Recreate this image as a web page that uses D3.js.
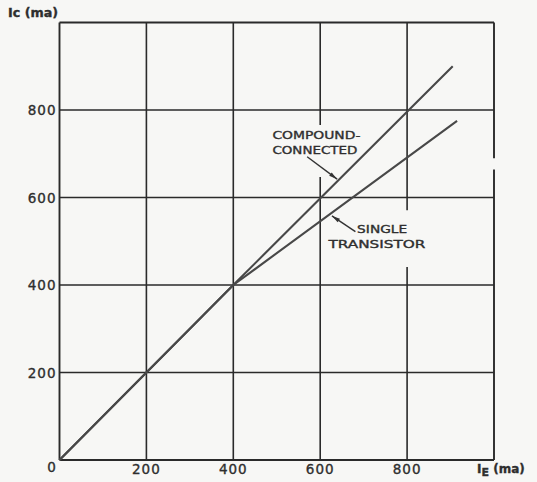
<!DOCTYPE html>
<html><head><meta charset="utf-8">
<script src="https://cdn.jsdelivr.net/npm/d3@7/dist/d3.min.js"></script>
<style>
html,body{margin:0;padding:0;background:#f7f7f5;}
svg{display:block;}
text{font-family:"DejaVu Sans",sans-serif;fill:#2e2e2e;stroke:#2e2e2e;stroke-width:0.35px;}
</style></head>
<body>
<script>
// ---- data ----
const xTicks = [200, 400, 600, 800];
const yTicks = [200, 400, 600, 800];
const compoundIE = [0, 400, 905];
const compoundIC = [0, 400, 900];
const singleIE = [0, 400, 915];
const singleIC = [0, 400, 775];
const seriesLabels = [["COMPOUND-", "CONNECTED"], ["SINGLE", "TRANSISTOR"]];
const xTitle = ["I", "E", " (ma)"];
const yTitle = "Ic (ma)";

const W = 537, H = 482;
const svg = d3.select("body").append("svg").attr("width", W).attr("height", H);
svg.append("rect").attr("width", W).attr("height", H).attr("fill", "#f7f7f5");

const x = d3.scaleLinear().domain([0, 1000]).range([59.5, 494]);
const y = d3.scaleLinear().domain([0, 1000]).range([460, 22.5]);

const gridColor = "#2a2a2a";
const g = svg.append("g");

// vertical grid lines (with breaks where the scan shows them)
const vGaps = {600: [[647, 766]], 800: [[441, 571]], 1000: [[664, 690]]};
function segs(gaps) {
  const out = []; let lo = 0;
  (gaps || []).forEach(([a, b]) => { out.push([lo, a]); lo = b; });
  out.push([lo, 1000]);
  return out;
}
[0].concat(xTicks, [1000]).forEach(v => {
  segs(vGaps[v]).forEach(([a, b]) => {
    g.append("line").attr("x1", x(v)).attr("x2", x(v)).attr("y1", y(a)).attr("y2", y(b))
      .attr("stroke", gridColor).attr("stroke-width", v === 0 || v === 1000 ? 1.9 : 1.6);
  });
});
[0].concat(yTicks, [1000]).forEach(v => {
  g.append("line").attr("x1", x(0)).attr("x2", x(1000)).attr("y1", y(v)).attr("y2", y(v))
    .attr("stroke", gridColor).attr("stroke-width", v === 0 || v === 1000 ? 1.9 : 1.6);
});

// tick labels
svg.selectAll(".xt").data(xTicks).enter().append("text")
  .attr("x", d => x(d)).attr("y", 474).attr("text-anchor", "middle")
  .attr("font-size", 13.5).attr("letter-spacing", 1).text(d => d);
svg.selectAll(".yt").data(yTicks).enter().append("text")
  .attr("x", x(0) - 3).attr("y", d => y(d) + 5).attr("text-anchor", "end")
  .attr("font-size", 13.5).attr("letter-spacing", 1).text(d => d);
svg.append("text").attr("x", x(0) - 8).attr("y", 472).attr("text-anchor", "middle")
  .attr("font-size", 13.5).text(0);

// axis titles
svg.append("text").attr("x", 8).attr("y", 17).attr("font-size", 12).attr("font-weight", "bold")
  .attr("textLength", 50).attr("lengthAdjust", "spacingAndGlyphs").text(yTitle);
const xt = svg.append("text").attr("x", 477).attr("y", 473).attr("font-size", 12).attr("font-weight", "bold");
xt.append("tspan").text(xTitle[0]);
xt.append("tspan").attr("dy", 3).attr("font-size", 11).text(xTitle[1]);
xt.append("tspan").attr("dy", -3).text(xTitle[2]);

// series lines
const line = d3.line().x(d => x(d[0])).y(d => y(d[1]));
const series = [d3.zip(compoundIE, compoundIC), d3.zip(singleIE, singleIC)];
series.forEach(s => {
  svg.append("path").datum(s).attr("d", line).attr("fill", "none")
    .attr("stroke", "#484848").attr("stroke-width", 2.1);
});

// annotation labels (data-space positions)
const lblX = [[490, 490], [685, 619]];
const lblY = [[734, 699], [520, 485]];
const lblW = [[88, 85], [50, 97]];
seriesLabels.forEach((lines, i) => {
  lines.forEach((t, j) => {
    svg.append("text").attr("x", x(lblX[i][j])).attr("y", y(lblY[i][j]))
      .attr("font-size", 11).attr("textLength", lblW[i][j]).attr("lengthAdjust", "spacingAndGlyphs")
      .text(t);
  });
});

// arrows
svg.append("defs").append("marker").attr("id", "ah").attr("viewBox", "0 0 10 6")
  .attr("refX", 10).attr("refY", 3).attr("markerWidth", 10).attr("markerHeight", 5)
  .attr("markerUnits", "userSpaceOnUse").attr("orient", "auto")
  .append("path").attr("d", "M0,0.5 L10,3 L0,5.5 Z").attr("fill", "#333");
const arrows = [[[570, 693], [639, 642]], [[681, 522], [627, 558]]];
arrows.forEach(([a, b]) => {
  svg.append("line").attr("x1", x(a[0])).attr("y1", y(a[1])).attr("x2", x(b[0])).attr("y2", y(b[1]))
    .attr("stroke", "#333").attr("stroke-width", 1.4).attr("marker-end", "url(#ah)");
});
</script>
</body></html>
